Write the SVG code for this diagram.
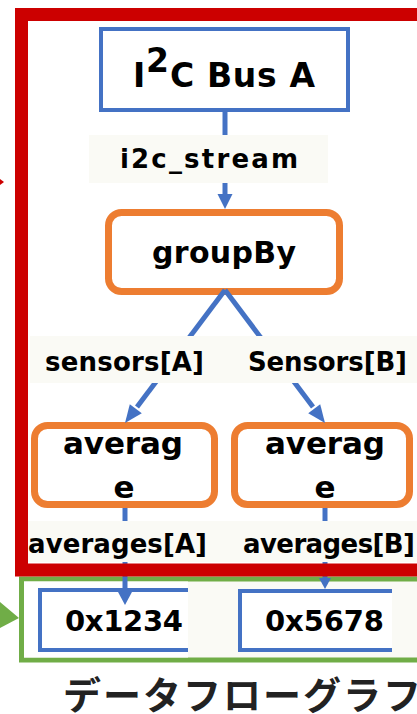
<svg xmlns="http://www.w3.org/2000/svg" width="417" height="714" viewBox="0 0 417 714">
<defs>
<style>
.t{font-family:"DejaVu Sans","Noto Sans",sans-serif;font-weight:bold;fill:#000;}
.lbl{font-size:26px;text-anchor:middle;}
.lbg{fill:#FAFAF5;}
.conn{stroke:#4472C4;stroke-width:5;fill:none;}
.ah{fill:#4472C4;}
.op{fill:#fff;stroke:#ED7D31;stroke-width:7;}
.out{fill:none;stroke:#4472C4;stroke-width:4;}
</style>
</defs>
<rect x="0" y="0" width="417" height="714" fill="#fff"/>

<g id="output-frame">
<rect x="21.5" y="579" width="420" height="81" fill="#FAFAF5" stroke="#70AD47" stroke-width="5"/>
<rect x="24" y="581.5" width="164" height="76" fill="#fff"/>
<polygon points="0,602 19,618 0,628" fill="#70AD47"/>
</g>

<g id="node-out-a">
<rect x="40" y="590" width="148" height="60" fill="#fff"/>
<path class="out" d="M188,590 H40 V650 H188"/>
<text class="t" x="124" y="631" font-size="29" text-anchor="middle" textLength="118">0x1234</text>
</g>
<g id="node-out-b">
<rect x="240" y="591" width="152" height="59" fill="#fff"/>
<path class="out" d="M392,591 H240 V650 H392"/>
<text class="t" x="324.5" y="631" font-size="29" text-anchor="middle" textLength="119">0x5678</text>
</g>

<g id="node-i2c">
<rect x="101" y="29" width="247" height="81" fill="#fff" stroke="#4472C4" stroke-width="4"/>
<text class="t" x="133" y="87" font-size="33">I</text>
<text class="t" x="146" y="72" font-size="33">2</text>
<text class="t" x="170" y="87" font-size="33" textLength="145">C Bus A</text>
</g>

<g id="node-groupby">
<rect class="op" x="108.5" y="212.5" width="231" height="79" rx="13"/>
<text class="t" x="224" y="263" font-size="30" text-anchor="middle" textLength="144">groupBy</text>
</g>

<g id="node-average-a">
<rect class="op" x="34.5" y="425.5" width="180" height="79" rx="13"/>
<text class="t" x="123" y="454" font-size="31" text-anchor="middle" textLength="120">averag</text>
<text class="t" x="124" y="498" font-size="31" text-anchor="middle">e</text>
</g>
<g id="node-average-b">
<rect class="op" x="234.5" y="425.5" width="175" height="79" rx="13"/>
<text class="t" x="325" y="454" font-size="31" text-anchor="middle" textLength="120">averag</text>
<text class="t" x="325" y="498" font-size="31" text-anchor="middle">e</text>
</g>

<g id="connectors">
<line class="conn" x1="225" y1="112" x2="225" y2="197"/>
<polygon class="ah" points="217.5,194 232.5,194 225,209"/>
<line class="conn" x1="225" y1="290" x2="137" y2="407"/>
<polygon class="ah" points="141.8,413.3 129.8,404.3 125,423"/>
<line class="conn" x1="225" y1="290" x2="313" y2="407"/>
<polygon class="ah" points="308.2,413.3 320.2,404.3 325,423"/>
<line class="conn" x1="125" y1="508" x2="125" y2="595"/>
<polygon class="ah" points="117.5,591 132.5,591 125,605"/>
<line class="conn" x1="325" y1="508" x2="325" y2="580"/>
<polygon class="ah" points="319,578 331,578 325,589"/>
</g>

<g id="edge-labels">
<rect class="lbg" x="89" y="135" width="239" height="48"/>
<text class="t lbl" x="209" y="168" font-size="27" textLength="178">i2c_stream</text>
<rect class="lbg" x="30" y="336" width="387" height="47"/>
<text class="t lbl" x="124.5" y="371" textLength="159">sensors[A]</text>
<text class="t lbl" x="327.5" y="371" textLength="159">Sensors[B]</text>
<rect class="lbg" x="28" y="521" width="389" height="41"/>
<text class="t lbl" x="117.5" y="553" textLength="179">averages[A]</text>
<text class="t lbl" x="329" y="553" textLength="172">averages[B]</text>
</g>

<g id="process-frame">
<rect x="21.5" y="14.5" width="430" height="555.5" fill="none" stroke="#CC0000" stroke-width="13"/>
<polygon points="0,179 4,182 0,185" fill="#CC0000"/>
</g>

<text x="63" y="709" font-family="'Noto Sans CJK JP','Noto Sans',sans-serif" font-weight="bold" font-size="38" letter-spacing="2" fill="#222">データフローグラフ</text>
</svg>
